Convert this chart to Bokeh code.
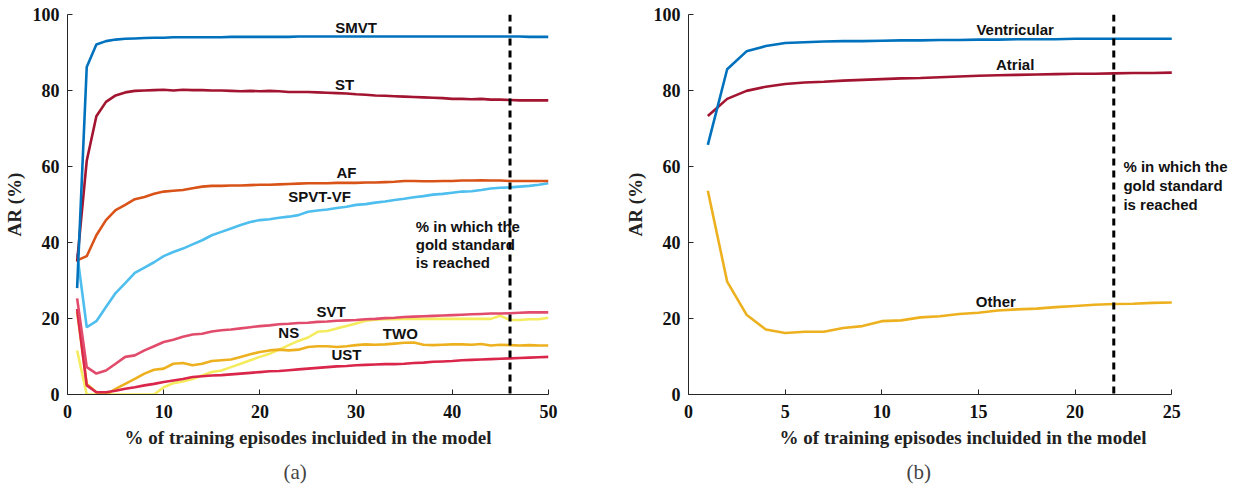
from bokeh.plotting import figure
from bokeh.layouts import row
from bokeh.models import Label, Span, Title, Range1d, FixedTicker
from bokeh.embed import file_html
from bokeh.resources import INLINE

# ---------------- data: panel (a) ----------------
pct_a = list(range(1, 51))
SMVT = [28.0, 86.2, 92.1, 93.0, 93.4, 93.6, 93.7, 93.8, 93.9, 93.9, 94.0, 94.0, 94.0, 94.0, 94.0,
        94.0, 94.1, 94.1, 94.1, 94.1, 94.1, 94.1, 94.1, 94.2, 94.2, 94.2, 94.2, 94.2, 94.2, 94.2,
        94.2, 94.2, 94.2, 94.2, 94.2, 94.2, 94.2, 94.2, 94.2, 94.2, 94.2, 94.2, 94.2, 94.2, 94.2,
        94.2, 94.2, 94.1, 94.1, 94.1]
ST = [35.0, 61.5, 73.2, 77.0, 78.7, 79.5, 79.9, 80.0, 80.1, 80.2, 80.0, 80.2, 80.1, 80.1, 80.0,
      80.0, 79.9, 79.8, 79.9, 79.8, 79.9, 79.8, 79.6, 79.6, 79.6, 79.5, 79.4, 79.3, 79.2, 79.0,
      78.9, 78.7, 78.6, 78.5, 78.4, 78.3, 78.2, 78.1, 78.0, 77.8, 77.8, 77.7, 77.8, 77.6, 77.6,
      77.5, 77.4, 77.4, 77.4, 77.4]
AF = [35.3, 36.4, 41.9, 45.9, 48.5, 49.9, 51.4, 52.0, 52.8, 53.4, 53.6, 53.8, 54.3, 54.7, 54.9,
      54.9, 55.0, 55.0, 55.1, 55.2, 55.2, 55.3, 55.4, 55.5, 55.6, 55.6, 55.6, 55.7, 55.7, 55.7,
      55.8, 55.8, 55.9, 56.0, 56.2, 56.2, 56.1, 56.1, 56.2, 56.2, 56.3, 56.3, 56.4, 56.3, 56.3,
      56.2, 56.2, 56.2, 56.2, 56.2]
SPVT_VF = [37.1, 17.7, 19.3, 23.0, 26.7, 29.3, 32.0, 33.4, 34.8, 36.4, 37.5, 38.4, 39.5, 40.6, 41.9,
           42.8, 43.7, 44.6, 45.4, 45.9, 46.1, 46.5, 46.8, 47.2, 48.1, 48.4, 48.7, 49.1, 49.4, 49.9,
           50.1, 50.5, 50.8, 51.2, 51.5, 51.9, 52.2, 52.6, 52.8, 53.1, 53.4, 53.5, 53.8, 54.2, 54.4,
           54.5, 54.7, 54.9, 55.2, 55.6]
SVT = [25.3, 7.2, 5.5, 6.3, 8.1, 9.9, 10.3, 11.6, 12.7, 13.8, 14.4, 15.2, 15.8, 16.0, 16.6,
       16.9, 17.1, 17.4, 17.7, 18.0, 18.2, 18.5, 18.6, 18.8, 18.9, 19.1, 19.2, 19.4, 19.5, 19.6,
       19.8, 19.9, 20.1, 20.2, 20.4, 20.5, 20.6, 20.7, 20.8, 20.9, 21.0, 21.1, 21.2, 21.3, 21.3,
       21.4, 21.5, 21.6, 21.6, 21.6]
UST = [22.5, 2.4, 0.6, 0.6, 1.0, 1.5, 1.9, 2.4, 2.8, 3.3, 3.7, 4.1, 4.6, 4.8, 5.0,
       5.1, 5.3, 5.5, 5.7, 5.9, 6.1, 6.2, 6.4, 6.6, 6.8, 7.0, 7.2, 7.4, 7.5, 7.7,
       7.8, 7.9, 8.0, 8.0, 8.1, 8.3, 8.4, 8.6, 8.7, 8.8, 9.0, 9.1, 9.2, 9.3, 9.4,
       9.5, 9.6, 9.7, 9.8, 9.9]
TWO = [21.8, 2.8, 0.6, 0.0, 1.5, 2.8, 4.1, 5.5, 6.5, 6.8, 8.1, 8.3, 7.7, 8.1, 8.8,
       9.0, 9.2, 9.9, 10.6, 11.2, 11.6, 11.8, 11.6, 11.8, 12.5, 12.7, 12.7, 12.5, 12.7, 13.0,
       13.2, 13.1, 13.2, 13.4, 13.6, 13.7, 13.1, 13.0, 13.1, 13.2, 13.2, 13.1, 13.3, 12.9, 13.1,
       13.0, 12.9, 13.0, 12.9, 12.9]
NS = [11.6, 0.0, 0.0, 0.0, 0.0, 0.0, 0.0, 0.0, 0.0, 1.9, 3.0, 3.4, 4.1, 5.0, 5.9,
      6.3, 7.2, 8.1, 9.0, 9.9, 10.7, 11.8, 13.0, 14.1, 15.0, 16.5, 16.7, 17.4, 18.0, 18.7,
      19.4, 19.7, 19.8, 19.8, 19.9, 19.9, 19.9, 19.9, 19.9, 19.9, 19.9, 19.9, 19.9, 19.9, 20.7,
      19.6, 19.6, 19.8, 19.8, 20.2]
gold_a = 46

# ---------------- data: panel (b) ----------------
pct_b = list(range(1, 26))
Ventricular = [65.7, 85.6, 90.3, 91.7, 92.5, 92.7, 92.9, 93.0, 93.0, 93.1, 93.2, 93.2, 93.3, 93.3,
               93.4, 93.4, 93.5, 93.5, 93.5, 93.6, 93.6, 93.6, 93.6, 93.6, 93.6]
Atrial = [73.3, 77.8, 79.9, 81.0, 81.7, 82.1, 82.3, 82.6, 82.8, 83.0, 83.2, 83.3, 83.5, 83.7,
          83.9, 84.0, 84.1, 84.2, 84.3, 84.4, 84.4, 84.5, 84.6, 84.6, 84.7]
Other = [53.6, 29.7, 21.0, 17.1, 16.2, 16.5, 16.5, 17.5, 18.0, 19.3, 19.5, 20.3, 20.6, 21.2,
         21.5, 22.1, 22.4, 22.6, 23.0, 23.3, 23.6, 23.8, 23.9, 24.1, 24.2]
gold_b = 22

y_ticks = [0, 20, 40, 60, 80, 100]
x_ticks_a = [0, 10, 20, 30, 40, 50]
x_ticks_b = [0, 5, 10, 15, 20, 25]
x_label = "% of training episodes incluided in the model"
y_label = "AR (%)"
note = ["% in which the", "gold standard", "is reached"]

SERIF = "Liberation Serif"
SANS = "Liberation Sans"


def style(p, xticks, xmax):
    p.outline_line_color = None
    p.xgrid.visible = False
    p.ygrid.visible = False
    for ax in (p.xaxis[0], p.yaxis[0]):
        ax.major_tick_in = 5
        ax.major_tick_out = 0
        ax.minor_tick_line_color = None
        ax.axis_line_color = "#262626"
        ax.major_tick_line_color = "#262626"
        ax.major_label_text_font = SERIF
        ax.major_label_text_font_style = "bold"
        ax.major_label_text_font_size = "18px"
        ax.major_label_text_color = "#111111"
        ax.axis_label_text_font = SERIF
        ax.axis_label_text_font_style = "bold"
        ax.axis_label_text_font_size = "19px"
        ax.axis_label_text_color = "#222222"
    p.xaxis[0].ticker = FixedTicker(ticks=xticks)
    p.xaxis[0].bounds = (0, xmax)
    p.yaxis[0].ticker = FixedTicker(ticks=y_ticks)
    p.xaxis[0].axis_label = x_label
    p.yaxis[0].axis_label = y_label
    p.xaxis[0].major_label_standoff = 10
    p.xaxis[0].axis_label_standoff = 6
    p.yaxis[0].major_label_standoff = 8
    p.yaxis[0].axis_label_standoff = 5


def lab(p, x, y, text, align="center"):
    p.add_layout(Label(x=x, y=y, text=text, text_font=SANS, text_font_style="bold",
                       text_font_size="15px", text_align=align, text_baseline="middle",
                       text_color="#111111"))


def caption(p, text, offset):
    p.add_layout(Title(text=text, align="left", text_font=SERIF, text_font_size="21px",
                       text_font_style="normal", standoff=14, offset=offset), "below")


H = 492

# ---------------- panel (a) ----------------
pa = figure(width=620, height=H, output_backend="svg", toolbar_location=None,
            x_range=Range1d(0, 50), y_range=Range1d(0, 100),
            min_border_left=67, min_border_right=72, min_border_top=14, min_border_bottom=H - 394)
style(pa, x_ticks_a, 50)
lw = 2.6
pa.line(pct_a, NS, line_color="#F4EC5E", line_width=lw)
pa.line(pct_a, TWO, line_color="#EDB120", line_width=lw)
pa.line(pct_a, UST, line_color="#D9264A", line_width=lw)
pa.line(pct_a, SVT, line_color="#E24C6C", line_width=lw)
pa.line(pct_a, SPVT_VF, line_color="#4DBEEE", line_width=lw)
pa.line(pct_a, AF, line_color="#D95319", line_width=lw)
pa.line(pct_a, ST, line_color="#A2142F", line_width=lw)
pa.line(pct_a, SMVT, line_color="#0072BD", line_width=lw)
pa.add_layout(Span(location=gold_a, dimension="height", line_color="black",
                   line_width=3, line_dash="7 5"))
lab(pa, 30.0, 96.5, "SMVT")
lab(pa, 28.8, 81.6, "ST")
lab(pa, 29.0, 58.5, "AF")
lab(pa, 26.2, 52.0, "SPVT-VF")
lab(pa, 27.4, 21.8, "SVT")
lab(pa, 23.0, 16.4, "NS")
lab(pa, 34.6, 16.0, "TWO")
lab(pa, 29.0, 10.5, "UST")
for i, t in enumerate(note):
    lab(pa, 36.2, 44.2 - 4.7 * i, t, align="left")
caption(pa, "(a)", 216)

# ---------------- panel (b) ----------------
pb = figure(width=617, height=H, output_backend="svg", toolbar_location=None,
            x_range=Range1d(0, 28.4), y_range=Range1d(0, 100),
            min_border_left=68, min_border_right=0, min_border_top=14, min_border_bottom=H - 394)
style(pb, x_ticks_b, 25)
pb.line(pct_b, Other, line_color="#EDB120", line_width=lw)
pb.line(pct_b, Atrial, line_color="#A2142F", line_width=lw)
pb.line(pct_b, Ventricular, line_color="#0072BD", line_width=lw)
pb.add_layout(Span(location=gold_b, dimension="height", line_color="black",
                   line_width=3, line_dash="7 5"))
lab(pb, 16.9, 96.0, "Ventricular")
lab(pb, 16.9, 86.8, "Atrial")
lab(pb, 15.9, 24.4, "Other")
for i, t in enumerate(note):
    lab(pb, 22.5, 60.0 - 5.0 * i, t, align="left")
caption(pb, "(b)", 218)

layout = row(pa, pb)
open("out.html", "w").write(file_html(layout, INLINE))
